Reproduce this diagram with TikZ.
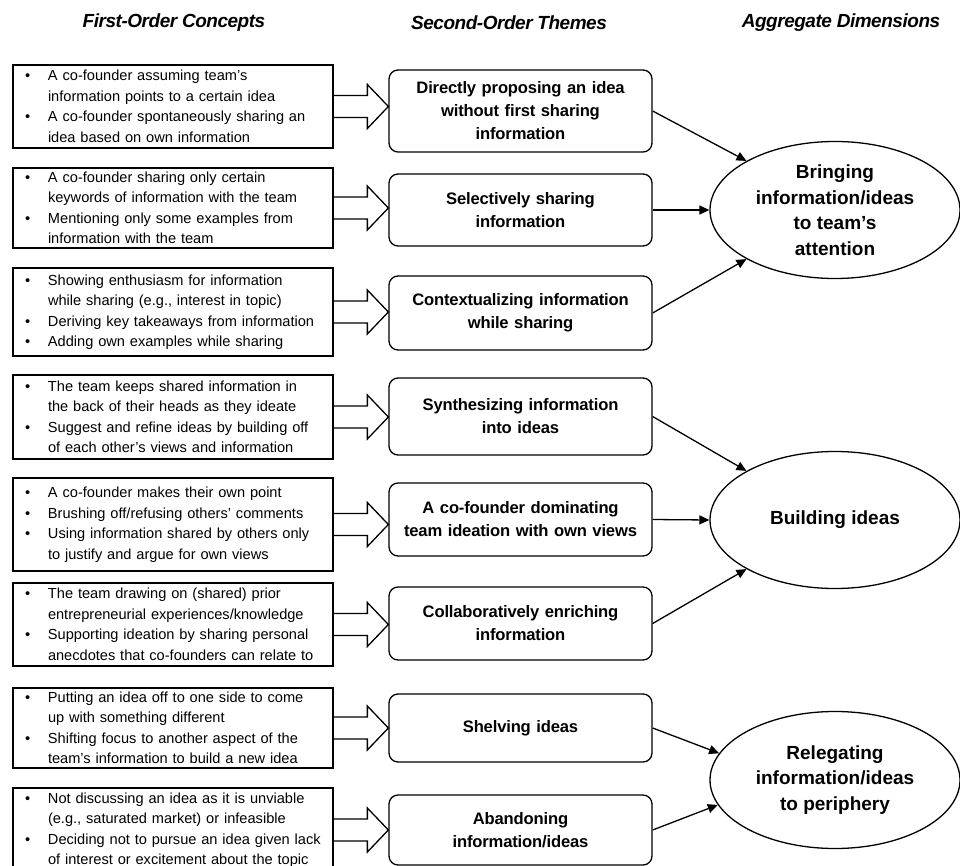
\documentclass[tikz,border=0pt]{standalone}
\usepackage{fontspec}
\setmainfont{Liberation Sans}
\usetikzlibrary{shapes.geometric,calc,arrows.meta}

% bullet line and continuation line inside a concept box (never re-wrapped)
\newcommand{\bl}[1]{\makebox[296pt][l]{\makebox[23pt][l]{\textbullet}#1}}
\newcommand{\cl}[1]{\makebox[296pt][l]{\hspace*{23pt}#1}}

% hollow block arrow from a concept box to a theme box
\newcommand{\blockarrow}[2]{%
  \draw[blockarr]
    ($(#1.east)+(0,11)$) --
    ($(#1.east -| #2.west)+(-21,11)$) --
    ($(#1.east -| #2.west)+(-21,22)$) --
    (#1.east -| #2.west) --
    ($(#1.east -| #2.west)+(-21,-22)$) --
    ($(#1.east -| #2.west)+(-21,-11)$) --
    ($(#1.east)+(0,-11)$);}

\begin{document}
\begin{tikzpicture}[x=1pt,y=-1pt,
  heading/.style={font=\fontsize{19}{22}\selectfont\bfseries\itshape\addfontfeature{LetterSpace=-2.5}},
  concept/.style={draw, line width=1.4pt, rectangle, inner xsep=12pt, inner ysep=0pt,
    text width=296pt, align=left, font=\fontsize{14.6}{20.5}\selectfont},
  theme/.style={draw, line width=1.3pt, rounded corners=9pt, minimum width=263pt,
    text width=255pt, align=center, inner sep=0pt,
    font=\fontsize{16.6}{23}\selectfont\bfseries\addfontfeature{LetterSpace=-1}},
  dimension/.style={draw, line width=1.3pt, ellipse, minimum width=250pt, minimum height=137pt,
    inner sep=0pt, align=center, font=\fontsize{19}{25.5}\selectfont\bfseries},
  blockarr/.style={line width=1.3pt, line join=miter},
  link/.style={line width=1.3pt, -{Triangle[length=10pt,width=9pt]}}
]
\useasboundingbox (0,0) rectangle (960,866);

% column headings
\node[heading] (h1) at (174,23) {First-Order Concepts};
\node[heading] (h2) at (509,23) {Second-Order Themes};
\node[heading] (h3) at (841,23) {Aggregate Dimensions};

% first-order concepts
\node[concept, minimum height=83pt] (c1) at (173,106.5) {%
  \bl{A co-founder assuming team's}\\
  \cl{information points to a certain idea}\\
  \bl{A co-founder spontaneously sharing an}\\
  \cl{idea based on own information}};
\node[concept, minimum height=80pt] (c2) at (173,208) {%
  \bl{A co-founder sharing only certain}\\
  \cl{keywords of information with the team}\\
  \bl{Mentioning only some examples from}\\
  \cl{information with the team}};
\node[concept, minimum height=88pt] (c3) at (173,312) {%
  \bl{Showing enthusiasm for information}\\
  \cl{while sharing (e.g., interest in topic)}\\
  \bl{Deriving key takeaways from information}\\
  \bl{Adding own examples while sharing}};
\node[concept, minimum height=84pt] (c4) at (173,417) {%
  \bl{The team keeps shared information in}\\
  \cl{the back of their heads as they ideate}\\
  \bl{Suggest and refine ideas by building off}\\
  \cl{of each other's views and information}};
\node[concept, minimum height=93pt] (c5) at (173,524.5) {%
  \bl{A co-founder makes their own point}\\
  \bl{Brushing off/refusing others' comments}\\
  \bl{Using information shared by others only}\\
  \cl{to justify and argue for own views}};
\node[concept, minimum height=83pt] (c6) at (173,624.5) {%
  \bl{The team drawing on (shared) prior}\\
  \cl{entrepreneurial experiences/knowledge}\\
  \bl{Supporting ideation by sharing personal}\\
  \cl{anecdotes that co-founders can relate to}};
\node[concept, minimum height=80pt] (c7) at (173,728) {%
  \bl{Putting an idea off to one side to come}\\
  \cl{up with something different}\\
  \bl{Shifting focus to another aspect of the}\\
  \cl{team's information to build a new idea}};
\node[concept, minimum height=84pt] (c8) at (173,830) {%
  \bl{Not discussing an idea as it is unviable}\\
  \cl{(e.g., saturated market) or infeasible}\\
  \bl{Deciding not to pursue an idea given lack}\\
  \cl{of interest or excitement about the topic}};

% second-order themes
\node[theme, minimum height=82pt] (t1) at (520.5,111) {Directly proposing an idea\\without first sharing\\information};
\node[theme, minimum height=72pt] (t2) at (520.5,210) {Selectively sharing\\information};
\node[theme, minimum height=74pt] (t3) at (520.5,313) {Contextualizing information\\while sharing};
\node[theme, minimum height=77pt] (t4) at (520.5,416.5) {Synthesizing information\\into ideas};
\node[theme, minimum height=73pt] (t5) at (520.5,519.5) {A co-founder dominating\\team ideation with own views};
\node[theme, minimum height=73pt] (t6) at (520.5,623.5) {Collaboratively enriching\\information};
\node[theme, minimum height=68pt] (t7) at (520.5,728) {Shelving ideas};
\node[theme, minimum height=70pt] (t8) at (520.5,830) {Abandoning\\information/ideas};

% aggregate dimensions
\node[dimension] (d1) at (835,210) {Bringing\\information/ideas\\to team's\\attention};
\node[dimension] (d2) at (835,520) {Building ideas};
\node[dimension] (d3) at (835,780) {Relegating\\information/ideas\\to periphery};

% concepts feed themes
\blockarrow{c1}{t1}
\blockarrow{c2}{t2}
\blockarrow{c3}{t3}
\blockarrow{c4}{t4}
\blockarrow{c5}{t5}
\blockarrow{c6}{t6}
\blockarrow{c7}{t7}
\blockarrow{c8}{t8}

% themes feed dimensions
\draw[link] (t1.east) -- (d1.151);
\draw[link] (t2.east) -- (d1.west);
\draw[link] (t3.east) -- (d1.209);
\draw[link] (t4.east) -- (d2.151);
\draw[link] (t5.east) -- (d2.west);
\draw[link] (t6.east) -- (d2.209);
\draw[link] (t7.east) -- (d3.167);
\draw[link] (t8.east) -- (d3.192);
\end{tikzpicture}
\end{document}
